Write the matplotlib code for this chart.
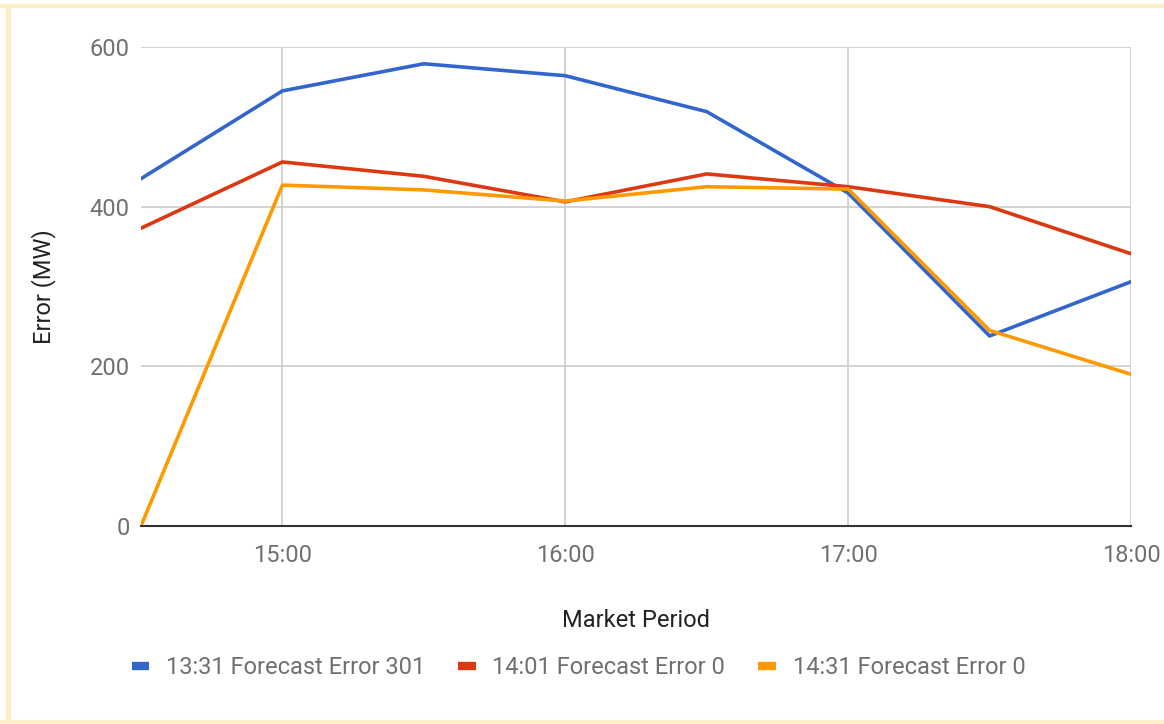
import numpy as np
from matplotlib import pyplot as plt
from matplotlib.patches import Rectangle

plt.rcParams['font.family'] = ['Roboto', 'DejaVu Sans']

# half-hour market periods, in hours
periods = [14.5, 15.0, 15.5, 16.0, 16.5, 17.0, 17.5, 18.0]
hour_ticks = [15, 16, 17, 18]
hour_labels = ["15:00", "16:00", "17:00", "18:00"]

err_1331 = [435, 545, 579, 564, 519, 417, 238, 306]
err_1401 = [373, 456, 438, 406, 441, 425, 400, 341]
err_1431 = [0, 427, 421, 407, 425, 422, 245, 190]

names = ["13:31 Forecast Error 301", "14:01 Forecast Error 0", "14:31 Forecast Error 0"]
colors = ["#3366cc", "#dc3912", "#ff9900"]

fig = plt.figure(figsize=(11.64, 7.24), dpi=100)
ax = fig.add_axes([0.1211, 0.2735, 0.8506, 0.6616])

for vals, name, c in zip([err_1331, err_1401, err_1431], names, colors):
    ax.plot(periods, vals, color=c, lw=2.6, label=name)

ax.set_xlim(14.5, 18)
ax.set_ylim(0, 600)
ax.set_yticks([0, 200, 400, 600])
ax.set_xticks(hour_ticks)
ax.set_xticklabels(hour_labels)
ax.grid(True, color="#cccccc", lw=1.2)
ax.set_axisbelow(True)
for s in ["top", "right", "left"]:
    ax.spines[s].set_visible(False)
ax.spines["bottom"].set_color("#333333")
ax.spines["bottom"].set_linewidth(1.5)
ax.tick_params(length=0, labelsize=17, labelcolor="#707070", pad=8)
ax.tick_params(axis='x', pad=13)

ax.set_xlabel("Market Period", fontsize=17, color="#222222", labelpad=30)
ax.set_ylabel("Error (MW)", fontsize=17, color="#222222", labelpad=24)

leg = fig.legend(loc="center", bbox_to_anchor=(0.497, 0.078), ncol=3, frameon=False,
                 fontsize=17, handlelength=0.75, handletextpad=0.7, columnspacing=1.4,
                 labelcolor="#707070")
for h in leg.get_lines():
    h.set_linewidth(6)
    h.set_solid_capstyle("butt")

# pale yellow frame
fc = "#fdf0c9"
fig.patches.append(Rectangle((0, 1 - 7 / 724), 1, 3 / 724, transform=fig.transFigure, color=fc, zorder=0))
fig.patches.append(Rectangle((6 / 1164, 0), 4 / 1164, 1 - 4 / 724, transform=fig.transFigure, color=fc, zorder=0))
fig.patches.append(Rectangle((0, 0), 1, 4 / 724, transform=fig.transFigure, color=fc, zorder=0))

fig.savefig("out.png", dpi=100)
